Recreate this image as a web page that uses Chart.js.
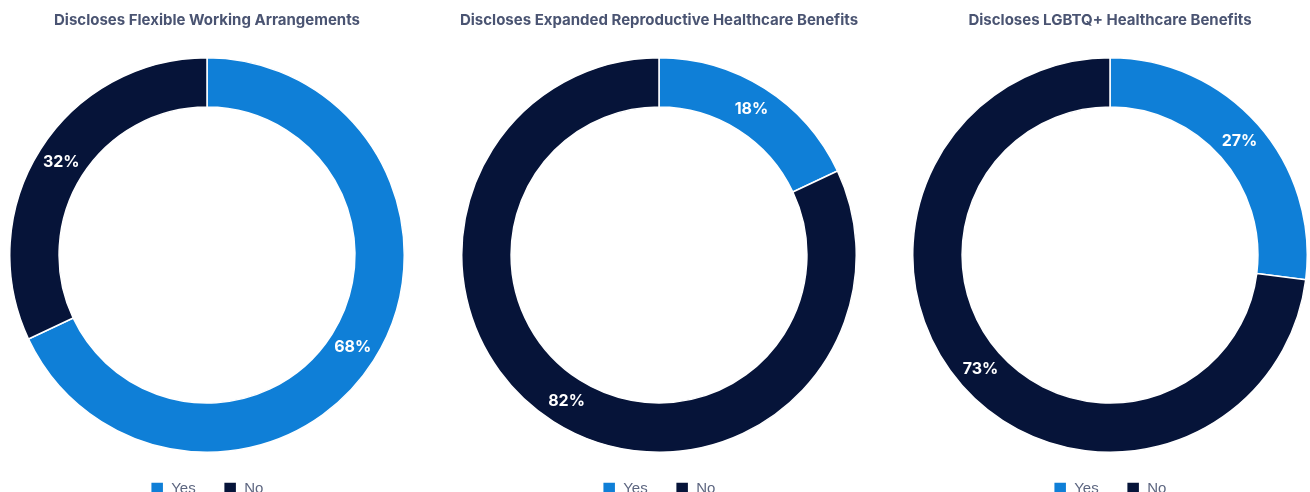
<!DOCTYPE html>
<html>
<head>
<meta charset="utf-8">
<script src="https://cdn.jsdelivr.net/npm/chart.js@4.4.1/dist/chart.umd.min.js"></script>
<style>
  html, body { margin: 0; padding: 0; background: #fff; }
  body { width: 1310px; height: 492px; overflow: hidden; position: relative; }
  .donut { position: absolute; top: 0; width: 400px; height: 506px; }
</style>
</head>
<body>
<div class="donut" style="left:7px"><canvas id="chartFlex"></canvas></div>
<div class="donut" style="left:459px"><canvas id="chartRepro"></canvas></div>
<div class="donut" style="left:910px"><canvas id="chartLgbtq"></canvas></div>
<script>
const categories = ['Yes', 'No'];
const flexibleWork = [68, 32];
const reproHealth = [18, 82];
const lgbtqHealth = [27, 73];
const titles = [
  'Discloses Flexible Working Arrangements',
  'Discloses Expanded Reproductive Healthcare Benefits',
  'Discloses LGBTQ+ Healthcare Benefits'
];
const colors = ['#0f7fd7', '#061439'];

// white percentage text in the middle of each ring segment
const pctLabels = {
  id: 'pctLabels',
  afterDatasetsDraw(chart) {
    const ctx = chart.ctx;
    const ds = chart.data.datasets[0];
    ctx.save();
    ctx.font = 'bold 16px Inter';
    ctx.fillStyle = '#ffffff';
    ctx.textAlign = 'center';
    ctx.textBaseline = 'middle';
    chart.getDatasetMeta(0).data.forEach(function(arc, i) {
      const p = arc.tooltipPosition();
      ctx.fillText(ds.data[i] + '%', p.x, p.y);
    });
    ctx.restore();
  }
};

function makeDonut(id, title, values) {
  return new Chart(document.getElementById(id), {
    type: 'doughnut',
    data: {
      labels: categories,
      datasets: [{
        data: values,
        backgroundColor: colors,
        borderColor: '#ffffff',
        borderWidth: 1.5,
        hoverOffset: 0
      }]
    },
    options: {
      responsive: true,
      maintainAspectRatio: false,
      animation: false,
      cutout: '75%',
      layout: { padding: 0 },
      plugins: {
        title: {
          display: true,
          text: title,
          color: '#4a5472',
          font: { family: 'Inter', size: 15, weight: 'bold' },
          padding: { top: 11, bottom: 28 }
        },
        legend: {
          display: true,
          position: 'bottom',
          labels: {
            boxWidth: 13,
            boxHeight: 13,
            padding: 28,
            color: '#5d6680',
            font: { family: 'Liberation Sans', size: 15 }
          }
        },
        tooltip: { enabled: false }
      }
    },
    plugins: [pctLabels]
  });
}

makeDonut('chartFlex', titles[0], flexibleWork);
makeDonut('chartRepro', titles[1], reproHealth);
makeDonut('chartLgbtq', titles[2], lgbtqHealth);
</script>
</body>
</html>
